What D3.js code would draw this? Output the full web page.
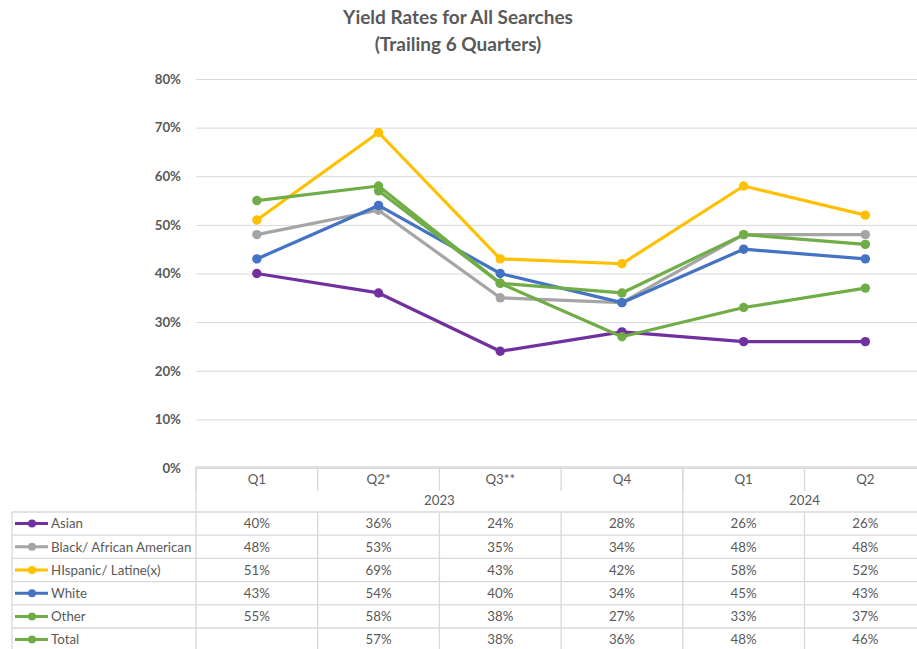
<!DOCTYPE html>
<html>
<head>
<meta charset="utf-8">
<script src="https://cdn.jsdelivr.net/npm/d3@7"></script>
<style>
  html, body { margin: 0; padding: 0; background: #fff; }
  svg { display: block; }
  text { font-family: Lato, "Open Sans", sans-serif; fill: #595959; }
</style>
</head>
<body>
<svg id="chart" width="917" height="649"></svg>
<script>
// Quarter categories and their year groups
const quarters = ["Q1", "Q2*", "Q3**", "Q4", "Q1", "Q2"];
const years = [{ label: "2023", from: 0, to: 3 }, { label: "2024", from: 4, to: 5 }];

// Yield rates per group (null = no value reported)
const asian    = [0.40, 0.36, 0.24, 0.28, 0.26, 0.26];
const black    = [0.48, 0.53, 0.35, 0.34, 0.48, 0.48];
const hispanic = [0.51, 0.69, 0.43, 0.42, 0.58, 0.52];
const white    = [0.43, 0.54, 0.40, 0.34, 0.45, 0.43];
const other    = [0.55, 0.58, 0.38, 0.27, 0.33, 0.37];
const total    = [null, 0.57, 0.38, 0.36, 0.48, 0.46];

const yTicks = [0, 0.1, 0.2, 0.3, 0.4, 0.5, 0.6, 0.7, 0.8];

const series = [
  { name: "Asian", values: asian, color: "#7030A0" },
  { name: "Black/ African American", values: black, color: "#A5A5A5" },
  { name: "HIspanic/ Latine(x)", values: hispanic, color: "#FFC000" },
  { name: "White", values: white, color: "#4472C4" },
  { name: "Other", values: other, color: "#70AD47" },
  { name: "Total", values: total, color: "#70AD47" }
];

const svg = d3.select("#chart");
const W = 917;
const plotLeft = 196, colW = 121.7;
const x = d3.scaleBand().domain(d3.range(quarters.length))
  .range([plotLeft, plotLeft + colW * quarters.length]).paddingInner(0).paddingOuter(0);
const y = d3.scaleLinear().domain([0, 0.8]).range([468, 79]);
const fmt = d3.format(".0%");
const gridColor = "#D9D9D9";
const cellFont = "13.3px";

// Title
const title = svg.append("text").attr("x", 458).attr("text-anchor", "middle")
  .style("font-size", "19px").style("font-weight", "bold");
title.append("tspan").attr("x", 458).attr("y", 24).text("Yield Rates for All Searches");
title.append("tspan").attr("x", 458).attr("y", 51).text("(Trailing 6 Quarters)");

// Horizontal gridlines and y-axis labels
const yAxis = d3.axisLeft(y).tickValues(yTicks).tickFormat(fmt)
  .tickSize(-(W - plotLeft)).tickPadding(15);
const gy = svg.append("g").attr("transform", `translate(${plotLeft},0)`).call(yAxis);
gy.select(".domain").remove();
gy.selectAll(".tick line").attr("stroke", gridColor).attr("stroke-width", 1);
gy.selectAll(".tick text").style("font-size", "13.3px").style("font-weight", "bold")
  .style("fill", "#595959").style("font-family", "Lato, sans-serif");

// Data table
const headTop = 467, headRowH = 23, rowTop = 512, rowH = 23.2;
const lineG = svg.append("g").attr("stroke", gridColor).attr("stroke-width", 1.3).attr("fill", "none");
// header top border
lineG.append("line").attr("x1", plotLeft).attr("x2", W).attr("y1", headTop).attr("y2", headTop);
// quarter separators in header row
quarters.forEach((q, i) => {
  lineG.append("line").attr("x1", x(i)).attr("x2", x(i)).attr("y1", headTop).attr("y2", headTop + headRowH + 1);
});
// year separators spanning header rows
years.forEach(yr => {
  lineG.append("line").attr("x1", x(yr.from)).attr("x2", x(yr.from)).attr("y1", headTop).attr("y2", rowTop);
});
// row lines
for (let r = 0; r <= series.length; r++) {
  const yy = rowTop + r * rowH;
  lineG.append("line").attr("x1", 12).attr("x2", W).attr("y1", yy).attr("y2", yy);
}
// vertical lines of the body
[12].concat(d3.range(quarters.length).map(i => x(i))).forEach(xx => {
  lineG.append("line").attr("x1", xx).attr("x2", xx).attr("y1", rowTop).attr("y2", 649);
});

// Header labels
svg.append("g").selectAll("text").data(quarters).join("text")
  .attr("x", (d, i) => x(i) + x.bandwidth() / 2).attr("y", headTop + 17)
  .attr("text-anchor", "middle").style("font-size", cellFont).text(d => d);
svg.append("g").selectAll("text").data(years).join("text")
  .attr("x", d => (x(d.from) + x(d.to) + x.bandwidth()) / 2).attr("y", headTop + 38)
  .attr("text-anchor", "middle").style("font-size", cellFont).text(d => d.label);

// Table rows: legend key + values
series.forEach((s, r) => {
  const cy = rowTop + r * rowH + rowH / 2;
  svg.append("line").attr("x1", 15).attr("x2", 48).attr("y1", cy).attr("y2", cy)
    .attr("stroke", s.color).attr("stroke-width", 3);
  svg.append("circle").attr("cx", 32).attr("cy", cy).attr("r", 4).attr("fill", s.color);
  svg.append("text").attr("x", 51).attr("y", cy + 4.7).style("font-size", cellFont).text(s.name);
  svg.append("g").selectAll("text").data(s.values).join("text")
    .attr("x", (d, i) => x(i) + x.bandwidth() / 2).attr("y", cy + 4.7)
    .attr("text-anchor", "middle").style("font-size", cellFont)
    .text(d => d == null ? "" : fmt(d));
});

// Lines and markers
const cx = i => x(i) + x.bandwidth() / 2;
const line = d3.line().defined(d => d != null).x((d, i) => cx(i)).y(d => y(d));
const plot = svg.append("g");
series.forEach(s => {
  plot.append("path").datum(s.values).attr("d", line).attr("fill", "none")
    .attr("stroke", s.color).attr("stroke-width", 3.2).attr("stroke-linejoin", "round");
  plot.append("g").selectAll("circle").data(s.values.map((v, i) => ({ v, i })).filter(d => d.v != null))
    .join("circle").attr("cx", d => cx(d.i)).attr("cy", d => y(d.v)).attr("r", 4.7).attr("fill", s.color);
});
</script>
</body>
</html>
